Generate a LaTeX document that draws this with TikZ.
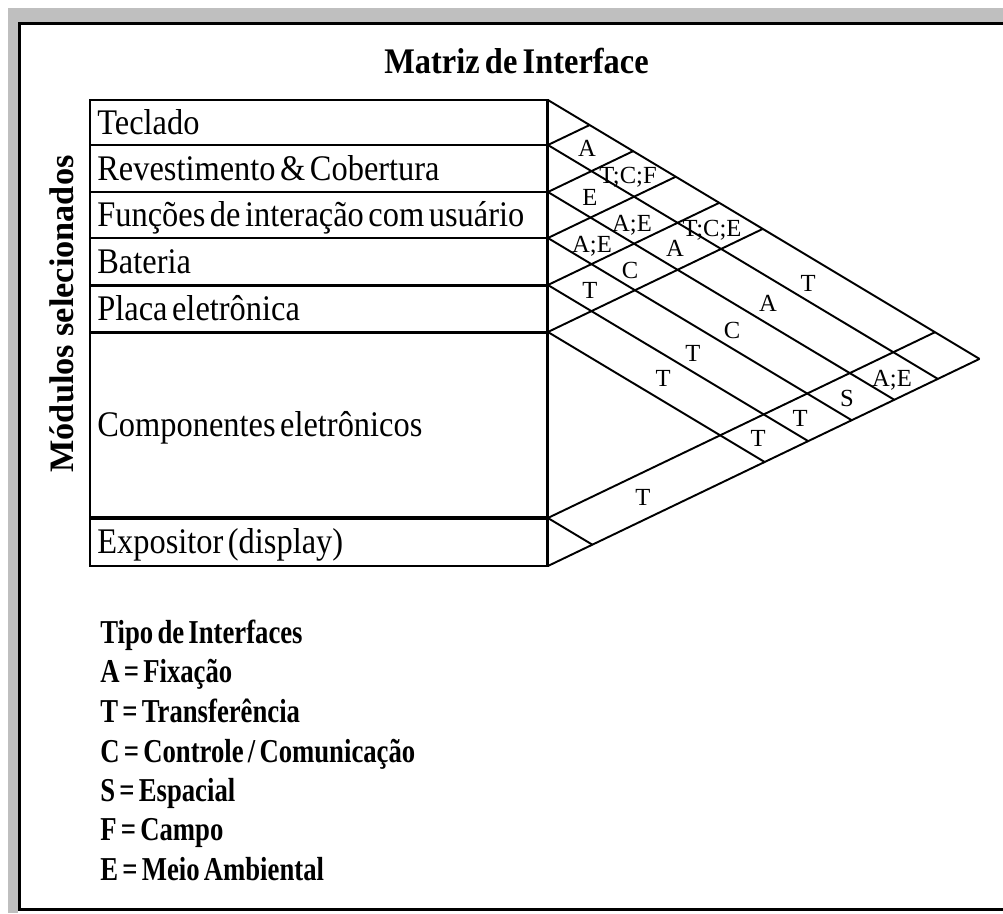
\documentclass[tikz,border=0pt]{standalone}
\usepackage{fontspec}
\setmainfont{Liberation Serif}
\newfontfamily\narrowrm{Liberation Serif}[FakeStretch=0.9]
\newfontfamily\legendrm{Liberation Serif}[FakeStretch=0.8]
\newcommand{\boxfont}{\narrowrm\fontsize{20.5}{24}\selectfont\spaceskip=2.6pt\relax}
\newcommand{\titlefont}{\narrowrm\bfseries\fontsize{20.5}{24}\selectfont\spaceskip=3pt\relax}
\newcommand{\legfont}{\legendrm\bfseries\fontsize{19}{20}\selectfont\spaceskip=2.4pt\relax}
\usetikzlibrary{positioning, calc}

\begin{document}
\begin{tikzpicture}[x=0.02cm,y=-0.02cm]
	\def \boxwd{9.16cm}
	\def \boxleft{90}
	\tikzstyle{mod-box}=[draw,line width=1.7pt,outer sep=0pt,inner sep=0pt,anchor=north west,minimum width=\boxwd]
	\tikzstyle{mod-lbl}=[anchor=west,inner sep=0pt,text height=13.5pt,text depth=0pt,font=\boxfont]
	\tikzstyle{cell-lbl}=[inner sep=0pt,text height=9.3pt,text depth=0pt,font=\fontsize{14}{16}\selectfont]
	\tikzstyle{annot}=[anchor=base west,inner sep=0pt,font=\legfont]
	\tikzstyle{grid}=[every edge/.style={draw,line width=1.1pt}]
	\useasboundingbox (0,0) rectangle (1003,913);
	\clip (0,0) rectangle (1003,913);

	% frame
	\fill[black!25] (8,8) rectangle (1003,22);
	\fill[black!25] (8,8) rectangle (18,913);
	\draw[line width=1.7pt] (19.5,23.5) rectangle (1020,909.5);

	% labels
	\node[inner sep=0pt,text height=13.5pt,text depth=0pt,font=\titlefont] (title) at (516.5,61.5) {Matriz de Interface};
	\node[rotate=90,inner sep=0pt,font=\bfseries\fontsize{19.5}{22}\selectfont] (sel) at (62,314) {Módulos selecionados};

	% modules
	\node[mod-box,minimum height=0.90cm] (mod0) at (\boxleft,100) {};
	\node[mod-box,minimum height=0.94cm] (mod1) at (\boxleft,145) {};
	\node[mod-box,minimum height=0.92cm] (mod2) at (\boxleft,192) {};
	\node[mod-box,minimum height=0.94cm] (mod3) at (\boxleft,238) {};
	\node[mod-box,minimum height=0.94cm] (mod4) at (\boxleft,285) {};
	\node[mod-box,minimum height=3.72cm] (mod5) at (\boxleft,332) {};
	\node[mod-box,minimum height=0.96cm] (mod6) at (\boxleft,518) {};
	%
	\node[mod-lbl,right=0.14cm of mod0.west] (lbl0) {Teclado};
	\node[mod-lbl,right=0.14cm of mod1.west] (lbl1) {Revestimento \& Cobertura};
	\node[mod-lbl,right=0.14cm of mod2.west] (lbl2) {Funções de interação com usuário};
	\node[mod-lbl,right=0.14cm of mod3.west] (lbl3) {Bateria};
	\node[mod-lbl,right=0.14cm of mod4.west] (lbl4) {Placa eletrônica};
	\node[mod-lbl,right=0.14cm of mod5.west] (lbl5) {Componentes eletrônicos};
	\node[mod-lbl,right=0.14cm of mod6.west] (lbl6) {Expositor (display)};

	% ends of the matrix lines
	\coordinate (d0) at (979.5,358.9);
	\coordinate (d1) at (937.8,378.9);
	\coordinate (d2) at (894.3,399.8);
	\coordinate (d3) at (851.7,420.2);
	\coordinate (d4) at (808.2,441.1);
	\coordinate (d5) at (764.7,462.0);
	\coordinate (d6) at (592.4,544.7);
	%
	\coordinate (u0) at (589.7,125.0);
	\coordinate (u1) at (633.2,151.1);
	\coordinate (u2) at (675.8,176.7);
	\coordinate (u3) at (719.3,202.8);
	\coordinate (u4) at (762.8,228.9);
	\coordinate (u5) at (935.0,332.2);

	\path[grid]
		(mod0.north east)	edge	(d0)
		(mod1.north east)	edge	(d1)
		(mod2.north east)	edge	(d2)
		(mod3.north east)	edge	(d3)
		(mod4.north east)	edge	(d4)
		(mod5.north east)	edge	(d5)
		(mod6.north east)	edge	(d6)
		%
		(mod0.south east)	edge	(u0)
		(mod1.south east)	edge	(u1)
		(mod2.south east)	edge	(u2)
		(mod3.south east)	edge	(u3)
		(mod4.south east)	edge	(u4)
		(mod5.south east)	edge	(u5)
		(mod6.south east)	edge	(d0);

	% interfaces
	\node[cell-lbl] (c01) at (587,148) {A};
	\node[cell-lbl] (c02) at (628,175) {T;C;F};
	\node[cell-lbl] (c04) at (712,228) {T;C;E};
	\node[cell-lbl] (c05) at (808,283) {T};
	\node[cell-lbl] (c12) at (590,197) {E};
	\node[cell-lbl] (c13) at (632,223) {A;E};
	\node[cell-lbl] (c14) at (675,248) {A};
	\node[cell-lbl] (c15) at (768,303) {A};
	\node[cell-lbl] (c16) at (892,378) {A;E};
	\node[cell-lbl] (c23) at (592,244) {A;E};
	\node[cell-lbl] (c24) at (630,270) {C};
	\node[cell-lbl] (c25) at (732,330) {C};
	\node[cell-lbl] (c26) at (847,398) {S};
	\node[cell-lbl] (c34) at (590,290) {T};
	\node[cell-lbl] (c35) at (693,353) {T};
	\node[cell-lbl] (c36) at (800,418) {T};
	\node[cell-lbl] (c45) at (663,378) {T};
	\node[cell-lbl] (c46) at (758,438) {T};
	\node[cell-lbl] (c56) at (643,497) {T};

	% legend
	\node[annot] (leg0) at (100,643) {Tipo de Interfaces};
	\node[annot] (leg1) at (100,682) {A = Fixação};
	\node[annot] (leg2) at (100,722) {T = Transferência};
	\node[annot] (leg3) at (100,762) {C = Controle / Comunicação};
	\node[annot] (leg4) at (100,801) {S = Espacial};
	\node[annot] (leg5) at (100,840) {F = Campo};
	\node[annot] (leg6) at (100,880) {E = Meio Ambiental};
\end{tikzpicture}
\end{document}
